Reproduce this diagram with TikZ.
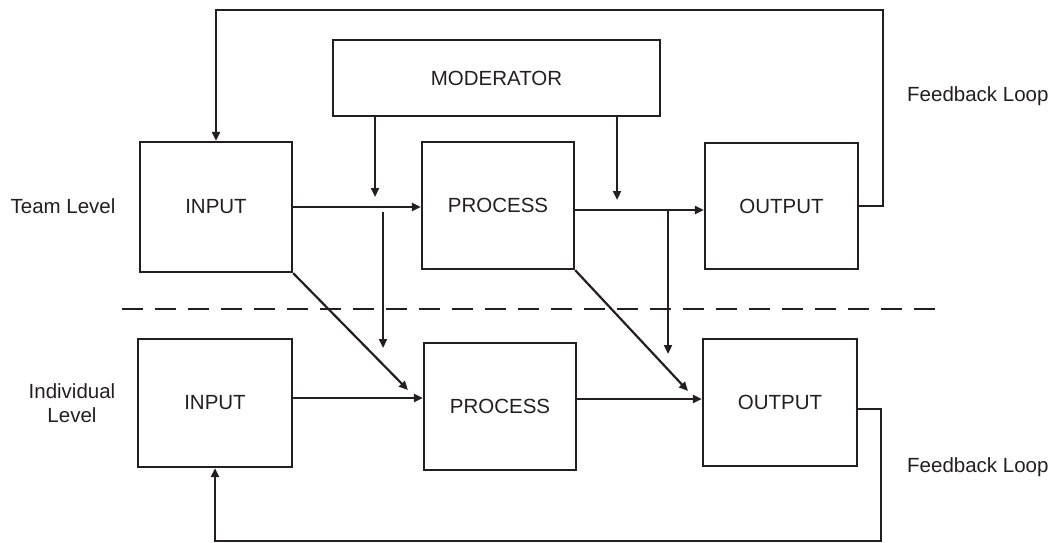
\documentclass[tikz,border=0pt]{standalone}
\usepackage{fontspec}
\setmainfont{Liberation Sans}
\usetikzlibrary{arrows.meta}
\definecolor{ink}{HTML}{231F20}
\tikzset{
  box/.style={draw=ink, line width=2.4pt, inner sep=0pt, text=ink,
    font=\fontsize{20.5}{24.5}\selectfont},
  lbl/.style={text=ink, inner sep=0pt, align=center,
    font=\fontsize{20.5}{24.5}\selectfont},
  link/.style={draw=ink, line width=2.2pt},
  arr/.style={link, -{Triangle[length=9pt,width=8pt]}},
}
\begin{document}
\begin{tikzpicture}[x=1pt, y=-1pt]
\useasboundingbox (0,0) rectangle (1062,543);

% boxes of the team level
\node[box, minimum width=327pt, minimum height=76pt] (mod) at (496.5,78) {MODERATOR};
\node[box, minimum width=152pt, minimum height=130pt] (in1) at (216,207) {INPUT};
\node[box, minimum width=152pt, minimum height=127pt] (pr1) at (498,205.5) {PROCESS};
\node[box, minimum width=153pt, minimum height=126pt] (out1) at (781.5,206) {OUTPUT};

% boxes of the individual level
\node[box, minimum width=154pt, minimum height=128pt] (in2) at (215,403) {INPUT};
\node[box, minimum width=152pt, minimum height=127pt] (pr2) at (500,406.5) {PROCESS};
\node[box, minimum width=154pt, minimum height=127pt] (out2) at (780,402.5) {OUTPUT};

% side labels
\node[lbl] (team) at (63,206) {Team Level};
\node[lbl] (indiv) at (72,403) {Individual\\Level};
\node[lbl, anchor=west] (fb1) at (907,96) {Feedback Loop};
\node[lbl, anchor=west] (fb2) at (907,467) {Feedback Loop};

% level separator
\coordinate (sepL) at (122,309);
\coordinate (sepR) at (935,309);
\draw[ink, line width=2.2pt, dash pattern=on 21pt off 12pt] (sepL) -- (sepR);

% team level flow
\draw[arr] (in1.east |- 0,207) -- (pr1.west |- 0,207);
\draw[arr] (pr1.east |- 0,210) -- (out1.west |- 0,210);

% moderator effects
\coordinate (m1) at (375,197);
\coordinate (m2) at (617,200);
\draw[arr] (mod.south -| m1) -- (m1);
\draw[arr] (mod.south -| m2) -- (m2);

% cross-level effects
\coordinate (c1s) at (383,212);
\coordinate (c1e) at (383,348);
\coordinate (c2s) at (668,210);
\coordinate (c2e) at (668,354);
\draw[arr] (c1s) -- (c1e);
\draw[arr] (c2s) -- (c2e);
\coordinate (d1) at (408,390);
\coordinate (d2) at (688,391);
\draw[arr] (in1.south east) -- (d1);
\draw[arr] (pr1.south east) -- (d2);

% individual level flow
\draw[arr] (in2.east |- 0,398) -- (pr2.west |- 0,398);
\draw[arr] (pr2.east |- 0,399) -- (out2.west |- 0,399);

% feedback loops
\coordinate (t1) at (883,10);
\coordinate (t2) at (881,541);
\draw[arr] (out1.east |- 0,206) -| (t1) -| (in1.north);
\draw[arr] (out2.east |- 0,409) -| (t2) -| (in2.south);
\end{tikzpicture}
\end{document}
